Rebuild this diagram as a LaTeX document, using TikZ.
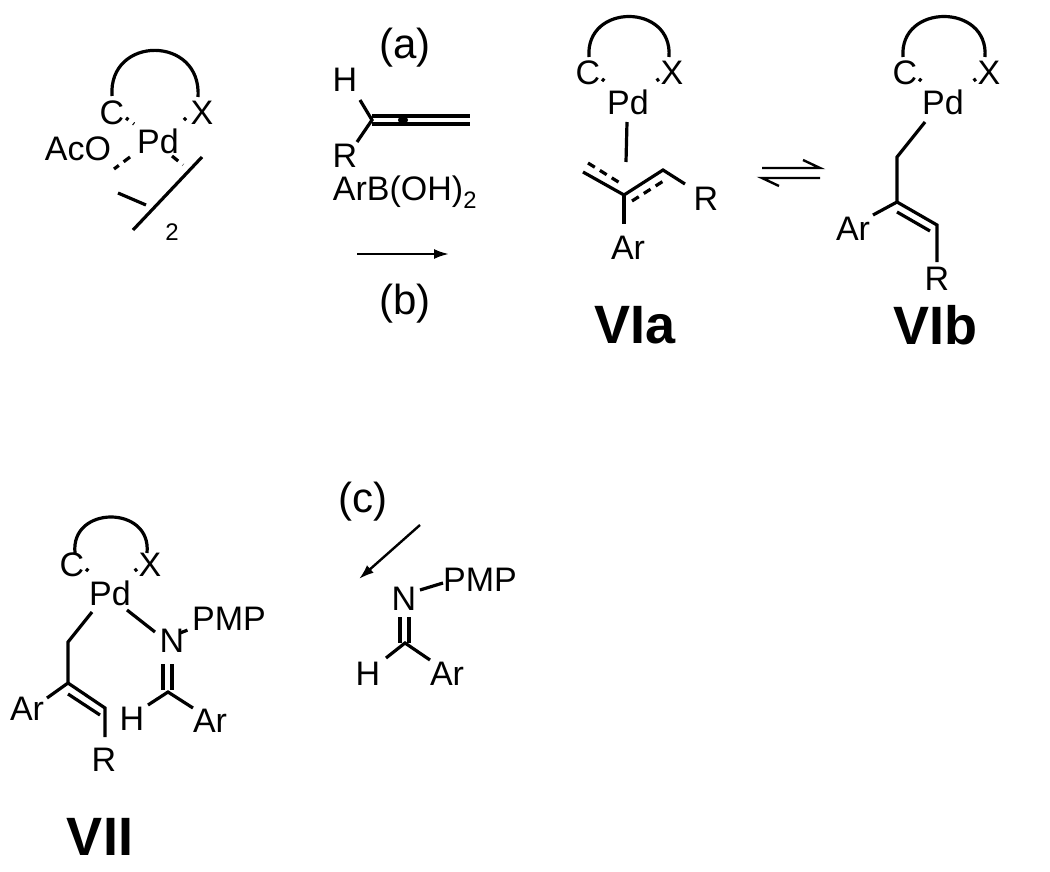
\documentclass[tikz,border=0pt]{standalone}
\usepackage{fontspec}
\setmainfont{Liberation Sans}
\usetikzlibrary{arrows.meta}
\begin{document}
\begin{tikzpicture}[x=1pt,y=-1pt,line width=3.2pt,
  atm/.style={inner sep=0pt,font=\fontsize{34}{36}\selectfont},
  lb/.style={inner sep=0pt,font=\fontsize{42}{44}\selectfont},
  cp/.style={inner sep=0pt,font=\fontsize{54}{58}\selectfont\bfseries},
  dsh/.style={dash pattern=on 8pt off 6pt},
  dt/.style={line width=3.4pt,dash pattern=on 3pt off 6pt}]
\useasboundingbox (0,0) rectangle (1050,872);
% ---- starting dimer
\node[atm] (c1) at (112,113) {C};
\node[atm] (x1) at (202,113) {X};
\node[atm] (pd1) at (158,141) {Pd};
\node[atm] (o1) at (78,149) {AcO};
\draw (112,96) .. controls (108,35) and (202,35) .. (198,97);
\draw[dt] (126,118) -- (134,124);
\draw[dt] (186,118) -- (180,124);
\draw[dsh] (130,157) -- (114,169);
\draw (118,193) -- (146,205);
\draw[dsh] (172,156) -- (183,165);
\draw (202,157) -- (133,230);
\node[inner sep=0pt,font=\fontsize{24}{26}\selectfont] (two) at (172,232) {2};
% ---- reagents
\node[lb] (la) at (405,48) {(a)};
\node[atm] (h0) at (345,80) {H};
\node[atm] (r0) at (345,156) {R};
\draw (360,100) -- (372,120) -- (357,142);
\draw (372,116) -- (470,116);
\draw (372,124) -- (470,124);
\fill (403,120) circle (5pt);
\node[atm] (arb) at (405,192) {ArB(OH)\textsubscript{2}};
\coordinate (a1) at (357,254); \coordinate (a2) at (449,254);
\draw[-{Latex[length=15pt,width=10pt]},line width=2.4pt] (a1) -- (a2);
\node[lb] (lbb) at (405,304) {(b)};
% ---- VIa
\node[atm] (c2) at (588,73) {C};
\node[atm] (x2) at (672,73) {X};
\node[atm] (pd2) at (628,102) {Pd};
\draw (589,57) .. controls (585,3) and (673,3) .. (669,57);
\draw[dt] (602,79) -- (608,84);
\draw[dt] (659,79) -- (652,84);
\draw (627,122) -- (626,162);
\draw (583,172) -- (624,195) -- (663,170) -- (685,184);
\draw[dsh] (588,163) -- (620,183);
\draw[dsh] (632,201) -- (665,180);
\draw (624,195) -- (624,224);
\node[atm] (ar2) at (628,248) {Ar};
\node[atm] (r2) at (706,199) {R};
\node[cp] (via) at (635,325) {VIa};
% ---- equilibrium
\draw[line width=2.4pt] (762,168) -- (820,168) -- (803,160);
\draw[line width=2.4pt] (820,178) -- (762,178) -- (779,186);
% ---- VIb
\node[atm] (c3) at (905,73) {C};
\node[atm] (x3) at (989,73) {X};
\node[atm] (pd3) at (943,102) {Pd};
\draw (903,57) .. controls (899,3) and (989,3) .. (985,57);
\draw[dt] (919,79) -- (925,84);
\draw[dt] (976,79) -- (969,84);
\draw (925,122) -- (897,157) -- (897,202) -- (873,215);
\draw (897,202) -- (937,225) -- (937,262);
\draw (897,212) -- (930,231);
\node[atm] (ar3) at (853,229) {Ar};
\node[atm] (r3) at (937,279) {R};
\node[cp] (vib) at (935,325) {VIb};
% ---- imine
\node[lb] (lc) at (363,502) {(c)};
\coordinate (c1s) at (420,525); \coordinate (c1e) at (359,579);
\draw[-{Latex[length=15pt,width=10pt]},line width=2.4pt] (c1s) -- (c1e);
\node[atm] (n4) at (404,599) {N};
\node[atm] (pmp4) at (480,580) {PMP};
\draw (420,590) -- (443,583);
\draw (400,617) -- (400,643);
\draw (409,617) -- (409,643);
\draw (386,658) -- (405,643) -- (430,660);
\node[atm] (h4) at (368,674) {H};
\node[atm] (ar4) at (447,674) {Ar};
% ---- VII
\node[atm] (c5) at (72,565) {C};
\node[atm] (x5) at (150,565) {X};
\node[atm] (pd5) at (110,593) {Pd};
\draw (75,553) .. controls (70,505) and (152,505) .. (147,553);
\draw[dt] (86,569) -- (92,574);
\draw[dt] (137,569) -- (131,574);
\draw (92,612) -- (68,642) -- (68,683) -- (47,698);
\draw (68,683) -- (105,708) -- (105,737);
\draw (68,694) -- (100,715);
\node[atm] (ar5) at (27,709) {Ar};
\node[atm] (r5) at (104,760) {R};
\draw (127,610) -- (155,632);
\node[atm] (n5) at (172,641) {N};
\node[atm] (pmp5) at (229,619) {PMP};
\draw[dsh] (180,633) -- (193,628);
\draw (163,664) -- (163,690);
\draw (172,664) -- (172,690);
\draw (148,705) -- (168,692) -- (193,708);
\node[atm] (h5) at (132,719) {H};
\node[atm] (ar6) at (210,721) {Ar};
\node[cp] (vii) at (100,837) {VII};
\end{tikzpicture}
\end{document}
